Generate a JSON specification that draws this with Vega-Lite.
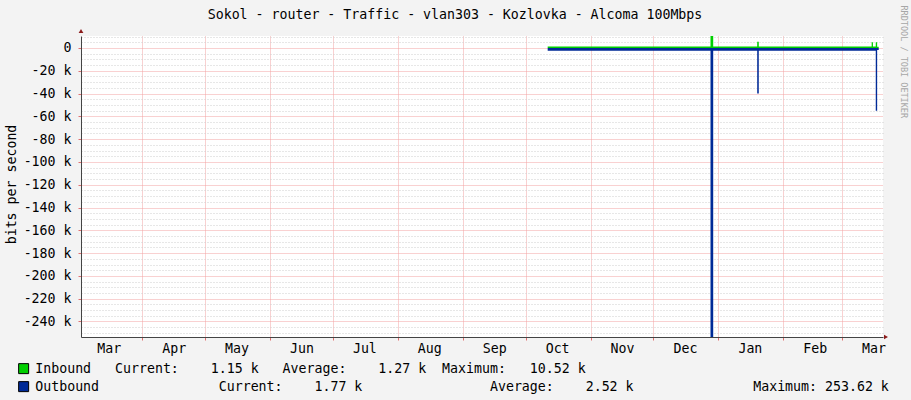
{
  "$schema": "https://vega.github.io/schema/vega-lite/v6.json",
  "description": "RRDtool style yearly traffic graph, inbound up, outbound down.",
  "width": 802,
  "height": 301,
  "autosize": {"type": "none"},
  "padding": {"left": 81, "top": 36, "right": 28, "bottom": 63},
  "background": "#f3f3f3",
  "title": {
    "text": "Sokol - router - Traffic - vlan303 - Kozlovka - Alcoma 100Mbps",
    "anchor": "middle",
    "frame": "group",
    "dx": -27,
    "offset": 0,
    "dy": 27,
    "baseline": "alphabetic",
    "font": "DejaVu Sans Mono",
    "fontSize": 13.25,
    "fontWeight": "normal",
    "color": "#000"
  },
  "resolve": {"axis": {"x": "independent", "y": "independent"}},
  "layer": [
    {
      "data": {
        "values": [
          {"series": "Inbound", "t": "2012-10-11T12:00", "bps": 1270},
          {"series": "Inbound", "t": "2012-12-28T05:00", "bps": 10520},
          {"series": "Inbound", "t": "2012-12-29T12:00", "bps": 1270},
          {"series": "Inbound", "t": "2013-01-19T12:00", "bps": 5500},
          {"series": "Inbound", "t": "2013-01-20T06:00", "bps": 1270},
          {"series": "Inbound", "t": "2013-03-15T03:00", "bps": 5000},
          {"series": "Inbound", "t": "2013-03-15T18:00", "bps": 1270},
          {"series": "Inbound", "t": "2013-03-17T02:00", "bps": 5000},
          {"series": "Inbound", "t": "2013-03-17T18:00", "bps": 1150},
          {"series": "Inbound", "t": "2013-03-18T12:00", "bps": 1150},
          {"series": "Outbound", "t": "2012-10-11T12:00", "bps": -2520},
          {"series": "Outbound", "t": "2012-12-28T05:00", "bps": -253620},
          {"series": "Outbound", "t": "2012-12-29T12:00", "bps": -2520},
          {"series": "Outbound", "t": "2013-01-19T12:00", "bps": -40000},
          {"series": "Outbound", "t": "2013-01-20T06:00", "bps": -2520},
          {"series": "Outbound", "t": "2013-03-17T02:00", "bps": -55000},
          {"series": "Outbound", "t": "2013-03-17T18:00", "bps": -1770},
          {"series": "Outbound", "t": "2013-03-18T12:00", "bps": -1770}
        ]
      },
      "mark": {"type": "area", "interpolate": "step-after", "opacity": 1},
      "encoding": {
        "x": {
          "field": "t",
          "type": "temporal",
          "scale": {
            "domain": [
              {"year": 2012, "month": 3, "date": 2, "hours": 18},
              {"year": 2013, "month": 3, "date": 20, "hours": 13}
            ]
          },
          "axis": {
            "title": null,
            "values": [
              {"year": 2012, "month": 3, "date": 16},
              {"year": 2012, "month": 4, "date": 1},
              {"year": 2012, "month": 4, "date": 16},
              {"year": 2012, "month": 5, "date": 1},
              {"year": 2012, "month": 5, "date": 16},
              {"year": 2012, "month": 6, "date": 1},
              {"year": 2012, "month": 6, "date": 16},
              {"year": 2012, "month": 7, "date": 1},
              {"year": 2012, "month": 7, "date": 16},
              {"year": 2012, "month": 8, "date": 1},
              {"year": 2012, "month": 8, "date": 16},
              {"year": 2012, "month": 9, "date": 1},
              {"year": 2012, "month": 9, "date": 16},
              {"year": 2012, "month": 10, "date": 1},
              {"year": 2012, "month": 10, "date": 16},
              {"year": 2012, "month": 11, "date": 1},
              {"year": 2012, "month": 11, "date": 16},
              {"year": 2012, "month": 12, "date": 1},
              {"year": 2012, "month": 12, "date": 16},
              {"year": 2013, "month": 1, "date": 1},
              {"year": 2013, "month": 1, "date": 16},
              {"year": 2013, "month": 2, "date": 1},
              {"year": 2013, "month": 2, "date": 16},
              {"year": 2013, "month": 3, "date": 1},
              {"year": 2013, "month": 3, "date": 16}
            ],
            "labelExpr": "date(datum.value) === 1 ? '' : timeFormat(datum.value, '%b')",
            "labelFont": "DejaVu Sans Mono",
            "labelFontSize": 13.25,
            "labelColor": "#000",
            "labelPadding": 2,
            "labelOverlap": false,
            "labelFlush": false,
            "tickSize": 3,
            "tickColor": {"condition": {"test": "date(datum.value) === 1", "value": "#e07070"}, "value": "transparent"},
            "grid": true,
            "gridColor": {"condition": {"test": "date(datum.value) === 1", "value": "#f2a2a2"}, "value": "transparent"},
            "gridDash": [1, 1],
            "domainColor": "#444"
          }
        },
        "y": {
          "field": "bps",
          "type": "quantitative",
          "stack": null,
          "scale": {"domain": [-253620, 10520], "nice": false},
          "axis": {
            "title": "bits per second",
            "values": [-250000, -245000, -240000, -235000, -230000, -225000, -220000, -215000, -210000, -205000, -200000, -195000, -190000, -185000, -180000, -175000, -170000, -165000, -160000, -155000, -150000, -145000, -140000, -135000, -130000, -125000, -120000, -115000, -110000, -105000, -100000, -95000, -90000, -85000, -80000, -75000, -70000, -65000, -60000, -55000, -50000, -45000, -40000, -35000, -30000, -25000, -20000, -15000, -10000, -5000, 0, 5000, 10000],
            "labelExpr": "datum.value % 20000 !== 0 ? '' : datum.value === 0 ? '0\u00a0\u00a0' : (datum.value / 1000) + '\u00a0k'",
            "labelFont": "DejaVu Sans Mono",
            "labelFontSize": 13.25,
            "labelColor": "#000",
            "labelPadding": 7,
            "labelOverlap": false,
            "labelBaseline": "middle",
            "tickSize": 3,
            "tickColor": {"condition": {"test": "datum.value % 20000 === 0", "value": "#e07070"}, "value": "transparent"},
            "grid": true,
            "gridColor": {"condition": {"test": "datum.value % 20000 === 0", "value": "#f2a2a2"}, "value": "#cfcfcf"},
            "gridDash": {"condition": {"test": "datum.value % 20000 === 0", "value": [1, 1]}, "value": [1, 2]},
            "domainColor": "#444",
            "titleFont": "DejaVu Sans Mono",
            "titleFontSize": 13.25,
            "titleFontWeight": "normal",
            "titleColor": "#000",
            "titleAngle": -90,
            "titleX": -70,
            "titleY": 148,
            "titleAlign": "center",
            "titleBaseline": "middle"
          }
        },
        "y2": {"datum": 0},
        "color": {
          "field": "series",
          "type": "nominal",
          "scale": {"domain": ["Inbound", "Outbound"], "range": ["#00CF00", "#002A97"]},
          "legend": {
            "orient": "none",
            "legendX": -64,
            "legendY": 326,
            "direction": "vertical",
            "title": null,
            "padding": 0,
            "rowPadding": 3,
            "labelFont": "DejaVu Sans Mono",
            "labelFontSize": 13.25,
            "labelColor": "#000",
            "labelLimit": 1000,
            "labelOffset": 5,
            "symbolType": "square",
            "symbolSize": 100,
            "symbolStrokeColor": "#000",
            "symbolStrokeWidth": 1,
            "symbolOpacity": 1,
            "labelExpr": "datum.label === 'Inbound' ? 'Inbound\u00a0\u00a0\u00a0Current:\u00a0\u00a0\u00a0\u00a01.15\u00a0k\u00a0\u00a0\u00a0Average:\u00a0\u00a0\u00a0\u00a01.27\u00a0k\u00a0\u00a0Maximum:\u00a0\u00a0\u00a010.52\u00a0k' : 'Outbound\u00a0\u00a0\u00a0\u00a0\u00a0\u00a0\u00a0\u00a0\u00a0\u00a0\u00a0\u00a0\u00a0\u00a0\u00a0Current:\u00a0\u00a0\u00a0\u00a01.77\u00a0k\u00a0\u00a0\u00a0\u00a0\u00a0\u00a0\u00a0\u00a0\u00a0\u00a0\u00a0\u00a0\u00a0\u00a0\u00a0\u00a0Average:\u00a0\u00a0\u00a0\u00a02.52\u00a0k\u00a0\u00a0\u00a0\u00a0\u00a0\u00a0\u00a0\u00a0\u00a0\u00a0\u00a0\u00a0\u00a0\u00a0\u00a0Maximum:\u00a0253.62\u00a0k'"
          }
        }
      }
    },
    {
      "data": {"values": [{}]},
      "mark": {"type": "point", "shape": "triangle-up", "filled": true, "size": 22, "color": "#8b1a1a", "opacity": 1, "yOffset": -5},
      "encoding": {
        "x": {"datum": {"year": 2012, "month": 3, "date": 2, "hours": 18}, "type": "temporal", "axis": null},
        "y": {"datum": 10520, "type": "quantitative", "axis": null}
      }
    },
    {
      "data": {"values": [{}]},
      "mark": {"type": "point", "shape": "triangle-right", "filled": true, "size": 22, "color": "#8b1a1a", "opacity": 1, "xOffset": 3},
      "encoding": {
        "x": {"datum": {"year": 2013, "month": 3, "date": 20, "hours": 13}, "type": "temporal", "axis": null},
        "y": {
          "datum": -253620,
          "type": "quantitative",
          "axis": {
            "orient": "right",
            "title": "RRDTOOL / TOBI OETIKER",
            "labels": false,
            "ticks": false,
            "domain": false,
            "grid": false,
            "titleAngle": 90,
            "titleX": 20,
            "titleY": -31,
            "titleAlign": "left",
            "titleBaseline": "middle",
            "titleFont": "DejaVu Sans Mono",
            "titleFontSize": 8.5,
            "titleFontWeight": "normal",
            "titleColor": "#a6a6a6"
          }
        }
      }
    }
  ],
  "config": {
    "view": {"fill": "#ffffff", "stroke": null}
  }
}
